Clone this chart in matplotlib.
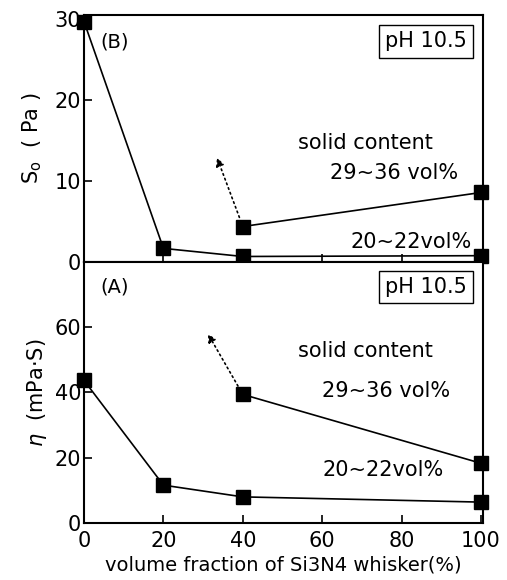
import matplotlib.pyplot as plt

# whisker volume fraction (%)
x_low = [0, 20, 40, 100]
x_high = [40, 100]

# (B) yield stress S0 (Pa)
s0_low = [29.7, 1.7, 0.7, 0.8]
s0_high = [4.4, 8.6]

# (A) viscosity eta (mPa.S)
eta_low = [43.7, 11.6, 8.0, 6.4]
eta_high = [39.4, 18.3]

x_ticks = [0, 20, 40, 60, 80, 100]
s0_ticks = [0, 10, 20, 30]
eta_ticks = [0, 20, 40, 60]

plt.rcParams['font.family'] = ['DejaVu Sans']
plt.rcParams['font.size'] = 13

fig = plt.figure(figsize=(5.07, 5.80), dpi=100)
ax_b = fig.add_axes([0.1657, 0.548, 0.787, 0.426])
ax_a = fig.add_axes([0.1657, 0.0983, 0.787, 0.45])


def style(ax):
    for sp in ax.spines.values():
        sp.set_linewidth(1.5)
    ax.tick_params(direction='in', length=6, width=1.2, labelsize=15, pad=2)
    ax.tick_params(axis='x', pad=6)
    ax.set_xlim(0, 100.5)
    ax.set_xticks(x_ticks)


def draw(ax, y_low, y_high, arrow_from, arrow_to):
    ax.plot(x_low, y_low, color='black', lw=1.2, marker='s', ms=10,
            clip_on=False, zorder=3)
    ax.plot(x_high, y_high, color='black', lw=1.2, marker='s', ms=10,
            clip_on=False, zorder=3)
    ax.annotate('', xy=arrow_to, xytext=arrow_from,
                arrowprops=dict(arrowstyle='-|>', color='black', lw=1.2,
                                linestyle=(0, (1, 2)), mutation_scale=12,
                                shrinkA=7, shrinkB=0))


box = dict(boxstyle='square,pad=0.3', fc='white', ec='black', lw=1)

# top panel (B)
style(ax_b)
ax_b.set_ylim(0, 30.5)
ax_b.set_yticks(s0_ticks)
ax_b.tick_params(labelbottom=False)
draw(ax_b, s0_low, s0_high, (40, s0_high[0]), (33.5, 12.9))
ax_b.text(4, 26.5, '(B)', fontsize=14)
ax_b.text(96.5, 26.5, 'pH 10.5', fontsize=15, ha='right', bbox=box)
ax_b.text(54, 14.0, 'solid content', fontsize=15)
ax_b.text(62, 10.3, '29~36 vol%', fontsize=15)
ax_b.text(67, 1.8, '20~22vol%', fontsize=15)
ax_b.set_ylabel('S$_{\\mathregular{o}}$  ( Pa )', fontsize=15, labelpad=8)

# bottom panel (A)
style(ax_a)
ax_a.set_ylim(0, 80)
ax_a.set_yticks(eta_ticks)
draw(ax_a, eta_low, eta_high, (40, eta_high[0]), (31.2, 58))
ax_a.text(4, 70.5, '(A)', fontsize=14)
ax_a.text(96.5, 70.5, 'pH 10.5', fontsize=15, ha='right', bbox=box)
ax_a.text(54, 51, 'solid content', fontsize=15)
ax_a.text(60, 38.5, '29~36 vol%', fontsize=15)
ax_a.text(60, 14.5, '20~22vol%', fontsize=15)
ax_a.set_ylabel('$\\eta$  (mPa·S)', fontsize=15, labelpad=4)
ax_a.set_xlabel('volume fraction of Si3N4 whisker(%)', fontsize=14, labelpad=3)

fig.savefig('out.png', dpi=100)
